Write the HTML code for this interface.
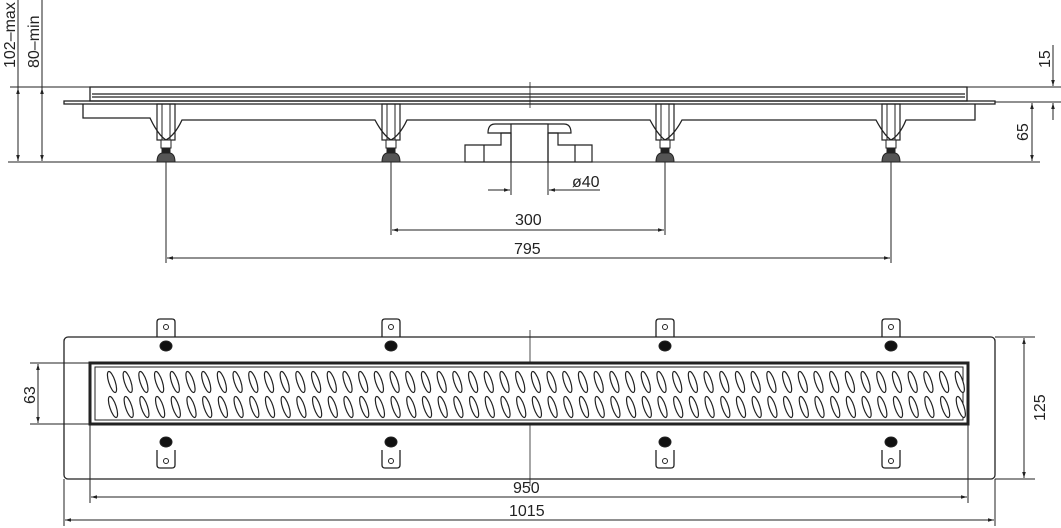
<!DOCTYPE html>
<html><head><meta charset="utf-8"><style>
html,body{margin:0;padding:0;background:#fff;}
svg{display:block;}
text{font-family:"Liberation Sans",sans-serif;font-size:16px;fill:#222;stroke:none;}
</style></head><body>
<svg id="s" width="1061" height="528" viewBox="0 0 1061 528" xmlns="http://www.w3.org/2000/svg" fill="none" stroke="#222" stroke-width="1">
<defs>
<marker id="a" viewBox="0 0 10 10" refX="10" refY="5" markerWidth="9" markerHeight="6" orient="auto-start-reverse"><path d="M0,2 L10,5 L0,8" fill="#222" stroke="none"/></marker>
</defs>
<g stroke-width="1.3">
<rect x="90" y="87" width="877" height="14"/>
<line x1="92" y1="94" x2="965" y2="94"/>
<line x1="92" y1="97" x2="965" y2="97"/>
<rect x="64" y="101" width="931" height="3"/>
<path d="M83 104 V118 H150 Q158 135 166 140 Q175 135 182 120 H375 Q383 135 391 140 Q400 135 407 120 H650 Q658 135 665 140 Q674 135 682 120 H876 Q884 135 891 140 Q900 135 906 120 H975 V104"/>
</g>
<g id="legs"></g>
<g stroke-width="1.2">
<path d="M488 133 Q488 124 495 124 H564 Q571 124 571 133 Z" fill="#fff"/>
<rect x="511" y="124" width="37" height="38" fill="#fff"/>
<path d="M465 145 H501 V133 H511 V162 H465 Z"/>
<path d="M592 145 H558 V133 H548 V162 H592 Z"/>
<line x1="484" y1="145" x2="484" y2="162"/><line x1="575" y1="145" x2="575" y2="162"/>
</g>
<line x1="530" y1="82" x2="530" y2="108" stroke-width="0.8"/>
<line x1="8" y1="162" x2="1040" y2="162" stroke-width="1"/>
<line x1="10" y1="87" x2="90" y2="87"/>
<line x1="967" y1="87" x2="1061" y2="87"/>
<line x1="995" y1="102" x2="1061" y2="102"/>
<line x1="18" y1="88" x2="18" y2="161" marker-start="url(#a)" marker-end="url(#a)"/>
<line x1="42" y1="88" x2="42" y2="161" marker-start="url(#a)" marker-end="url(#a)"/>
<line x1="18" y1="0" x2="18" y2="88"/><line x1="42" y1="0" x2="42" y2="88"/>
<text transform="translate(15,68) rotate(-90)">102–max</text>
<text transform="translate(39,68) rotate(-90)">80–min</text>
<line x1="1053" y1="45" x2="1053" y2="86" marker-end="url(#a)"/>
<line x1="1053" y1="103" x2="1053" y2="120" marker-start="url(#a)"/>
<text transform="translate(1050,68) rotate(-90)">15</text>
<line x1="1032" y1="103" x2="1032" y2="161" marker-start="url(#a)" marker-end="url(#a)"/>
<text transform="translate(1028,141) rotate(-90)">65</text>
<line x1="511" y1="162" x2="511" y2="195"/><line x1="548" y1="162" x2="548" y2="195"/>
<line x1="488" y1="190" x2="510" y2="190" marker-end="url(#a)"/>
<line x1="600" y1="190" x2="549" y2="190" marker-end="url(#a)"/>
<text x="572" y="187">ø40</text>
<line x1="166" y1="162" x2="166" y2="263"/><line x1="891" y1="162" x2="891" y2="263"/>
<line x1="391" y1="162" x2="391" y2="235"/><line x1="665" y1="162" x2="665" y2="235"/>
<line x1="392" y1="230" x2="664" y2="230" marker-start="url(#a)" marker-end="url(#a)"/>
<text x="515" y="225">300</text>
<line x1="167" y1="258" x2="890" y2="258" marker-start="url(#a)" marker-end="url(#a)"/>
<text x="514" y="254">795</text>
<rect x="64" y="337" width="931" height="142" rx="4" stroke-width="1.3"/>
<rect x="90" y="363" width="878" height="61" stroke-width="3"/>
<rect x="95" y="367" width="868" height="53" stroke-width="1"/>
<g id="slots" stroke-width="1.2"></g>
<g id="br"></g>
<line x1="530" y1="330" x2="530" y2="362" stroke-width="0.8"/>
<line x1="530" y1="425" x2="530" y2="486" stroke-width="0.8"/>
<line x1="30" y1="363" x2="90" y2="363"/><line x1="30" y1="424" x2="90" y2="424"/>
<line x1="38" y1="364" x2="38" y2="423" marker-start="url(#a)" marker-end="url(#a)"/>
<text transform="translate(35,404) rotate(-90)">63</text>
<line x1="995" y1="337" x2="1035" y2="337"/><line x1="995" y1="479" x2="1035" y2="479"/>
<line x1="1024" y1="338" x2="1024" y2="478" marker-start="url(#a)" marker-end="url(#a)"/>
<text transform="translate(1045,421) rotate(-90)">125</text>
<line x1="90" y1="424" x2="90" y2="503"/><line x1="968" y1="424" x2="968" y2="503"/>
<line x1="64" y1="479" x2="64" y2="526"/><line x1="995" y1="479" x2="995" y2="526"/>
<line x1="91" y1="497" x2="967" y2="497" marker-start="url(#a)" marker-end="url(#a)"/>
<text x="513" y="493">950</text>
<line x1="65" y1="520" x2="994" y2="520" marker-start="url(#a)" marker-end="url(#a)"/>
<text x="509" y="516">1015</text>
</svg>
<script>
var NS="http://www.w3.org/2000/svg";
function el(p,t,a){var e=document.createElementNS(NS,t);for(var k in a)e.setAttribute(k,a[k]);p.appendChild(e);return e;}
var legs=document.getElementById("legs"),br=document.getElementById("br"),sl=document.getElementById("slots");
[166,391,665,891].forEach(function(x){
 el(legs,"rect",{x:x-9,y:104,width:18,height:36,"stroke-width":1.2});
 el(legs,"line",{x1:x-4,y1:104,x2:x-4,y2:140});el(legs,"line",{x1:x+4,y1:104,x2:x+4,y2:140});
 el(legs,"rect",{x:x-5,y:140,width:10,height:8,fill:"#fff"});
 el(legs,"rect",{x:x-4,y:148,width:8,height:6,fill:"#222"});
 el(legs,"path",{d:"M"+(x-9)+" 162 Q"+(x-9)+" 154 "+(x-4)+" 153 H"+(x+4)+" Q"+(x+9)+" 154 "+(x+9)+" 162 Z",fill:"#555","stroke-width":1});
 el(br,"path",{d:"M"+(x-9)+" 337 V322 Q"+(x-9)+" 319 "+(x-6)+" 319 H"+(x+6)+" Q"+(x+9)+" 319 "+(x+9)+" 322 V337","stroke-width":1.3});
 el(br,"circle",{cx:x,cy:327,r:2.5});
 el(br,"ellipse",{cx:x,cy:346,rx:6,ry:5,fill:"#111"});
 el(br,"path",{d:"M"+(x-9)+" 450 V465 Q"+(x-9)+" 468 "+(x-6)+" 468 H"+(x+6)+" Q"+(x+9)+" 468 "+(x+9)+" 465 V450","stroke-width":1.3});
 el(br,"circle",{cx:x,cy:461,r:2.5});
 el(br,"ellipse",{cx:x,cy:442,rx:6,ry:5,fill:"#111"});
});
for(var i=0;i<55;i++){
 var x=112+i*15.7;
 el(sl,"ellipse",{cx:x,cy:382,rx:3.2,ry:11,transform:"rotate(-18 "+x+" 382)",fill:"#fff"});
 el(sl,"ellipse",{cx:x+1,cy:407,rx:3.2,ry:11,transform:"rotate(-18 "+(x+1)+" 407)",fill:"#fff"});
}
</script>
</body></html>
